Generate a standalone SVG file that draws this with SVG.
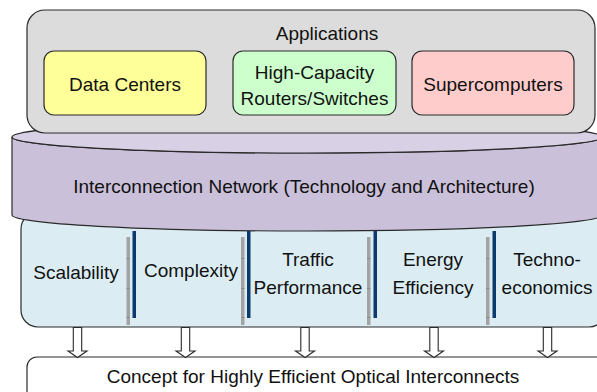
<svg xmlns="http://www.w3.org/2000/svg" width="597" height="392" viewBox="0 0 597 392">
  <defs>
    <style>
      text { font-family: "Liberation Sans", Arial, sans-serif; font-size: 19px; fill: #111; text-anchor: middle; }
      .box { stroke: #2a2a2a; stroke-width: 1.2; }
      .grey-bar { fill: #a3a3a3; }
      .notch { stroke: #8a8a8a; stroke-width: 1; }
      .blue-bar { fill: #0d3a6c; }
      .arrow { fill: #ffffff; stroke: #2a2a2a; stroke-width: 1.1; stroke-linejoin: miter; }
    </style>
    <!-- hollow block arrow pointing down, origin at top-centre -->
    <path id="down-arrow" d="M-4.2,0 H4.2 V23.5 H9.5 L0,30 L-9.5,23.5 H-4.2 Z"/>
  </defs>

  <!-- criteria panel (sits behind the network cylinder) -->
  <g id="criteria">
    <rect class="box" x="21" y="212" width="585" height="115" rx="17" fill="#dbedf3"/>
  </g>

  <!-- interconnection network cylinder -->
  <g id="network">
    <path class="box" fill="#cac0da" d="M12,137 V215 A295,16 0 0 0 602,215 V137 A295,16 0 0 1 12,137 Z"/>
    <ellipse class="box" cx="307" cy="137" rx="295" ry="16" fill="#d8d0e5"/>
    <text x="304" y="193">Interconnection Network (Technology and Architecture)</text>
  </g>

  <!-- applications panel -->
  <g id="applications">
    <rect class="box" x="27" y="10" width="568" height="123" rx="18" fill="#dcdcdc"/>
    <text x="327" y="40">Applications</text>
  </g>

  <g id="data-centers">
    <rect class="box" x="44" y="51" width="162" height="64" rx="10" fill="#ffff99"/>
    <text x="125" y="91">Data Centers</text>
  </g>

  <g id="routers-switches">
    <rect class="box" x="233" y="51" width="163" height="64" rx="10" fill="#ccffcc"/>
    <text x="314.5" y="79">High-Capacity</text>
    <text x="314.5" y="105">Routers/Switches</text>
  </g>

  <g id="supercomputers">
    <rect class="box" x="412" y="51" width="162" height="64" rx="10" fill="#ffcccc"/>
    <text x="493" y="91">Supercomputers</text>
  </g>

  <!-- criteria labels -->
  <g id="scalability">
    <text x="76" y="279">Scalability</text>
  </g>
  <g id="complexity">
    <text x="191" y="277">Complexity</text>
  </g>
  <g id="traffic-performance">
    <text x="308" y="266">Traffic</text>
    <text x="308" y="294">Performance</text>
  </g>
  <g id="energy-efficiency">
    <text x="433" y="266">Energy</text>
    <text x="433" y="294">Efficiency</text>
  </g>
  <g id="techno-economics">
    <text x="547" y="266">Techno-</text>
    <text x="547" y="294">economics</text>
  </g>

  <!-- column separators: grey rule with notches next to a dark blue rule -->
  <g id="separators">
    <rect class="grey-bar" x="126.5" y="237" width="3.5" height="88"/>
    <rect class="blue-bar" x="132.5" y="231" width="3.5" height="87"/>
    <rect class="grey-bar" x="241" y="237" width="3.5" height="88"/>
    <rect class="blue-bar" x="247" y="231" width="3.5" height="87"/>
    <rect class="grey-bar" x="367" y="237" width="3.5" height="88"/>
    <rect class="blue-bar" x="373.5" y="231" width="3.5" height="87"/>
    <rect class="grey-bar" x="486" y="237" width="3.5" height="88"/>
    <rect class="blue-bar" x="492.5" y="231" width="3.5" height="87"/>
    <g class="notch">
      <path d="M126.5,258.5h3.5M126.5,288.5h3.5M126.5,317.5h3.5"/>
      <path d="M241,258.5h3.5M241,288.5h3.5M241,317.5h3.5"/>
      <path d="M367,258.5h3.5M367,288.5h3.5M367,317.5h3.5"/>
      <path d="M486,258.5h3.5M486,288.5h3.5M486,317.5h3.5"/>
    </g>
  </g>

  <!-- result box -->
  <g id="concept">
    <rect class="box" x="27" y="357" width="580" height="50" rx="10" fill="#ffffff"/>
    <text x="313" y="383">Concept for Highly Efficient Optical Interconnects</text>
  </g>

  <!-- arrows from each criterion down to the result -->
  <g id="connectors">
    <use href="#down-arrow" class="arrow" x="77.5" y="327.5"/>
    <use href="#down-arrow" class="arrow" x="185.5" y="327.5"/>
    <use href="#down-arrow" class="arrow" x="305" y="327.5"/>
    <use href="#down-arrow" class="arrow" x="434" y="327.5"/>
    <use href="#down-arrow" class="arrow" x="547.5" y="327.5"/>
  </g>
</svg>
